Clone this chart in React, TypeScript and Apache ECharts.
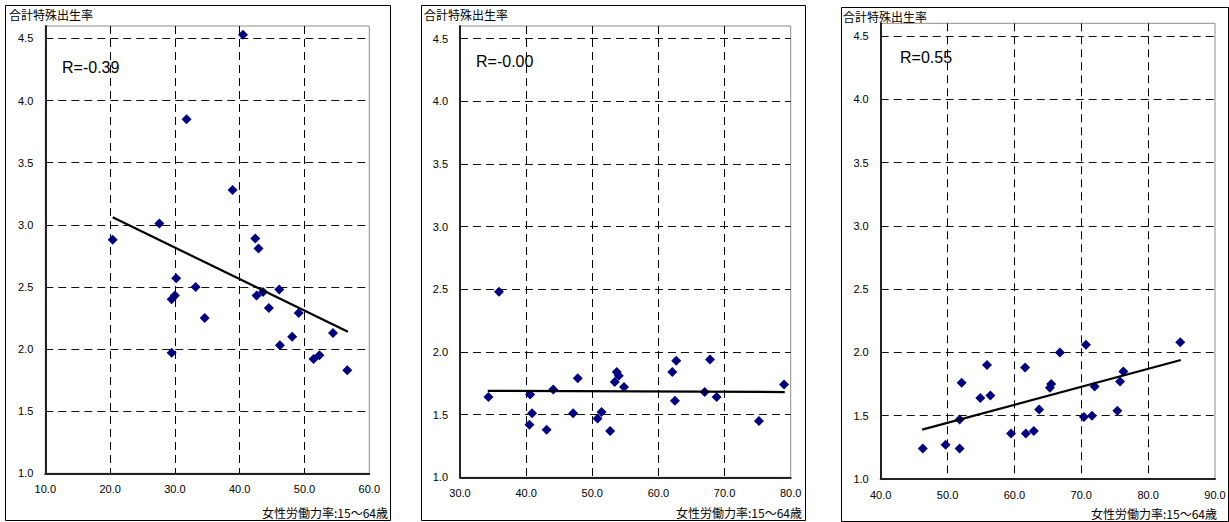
import React, { useEffect, useRef } from "react";
import * as echarts from "echarts";

// Panel 1
const P1_X = [40.5, 31.8, 38.9, 27.6, 20.4, 42.4, 42.9, 30.2, 33.2, 29.5, 30.0, 34.6, 29.5, 42.6, 43.6, 46.1, 44.5, 49.1, 48.1, 46.2, 54.4, 51.4, 52.3, 56.6];
const P1_Y = [4.53, 3.85, 3.28, 3.01, 2.88, 2.89, 2.81, 2.57, 2.50, 2.40, 2.43, 2.25, 1.97, 2.43, 2.46, 2.48, 2.33, 2.29, 2.10, 2.03, 2.13, 1.92, 1.95, 1.83];
const P1_TREND = [[20.4, 3.06], [56.7, 2.14]];
const P1_R = "R=-0.39";
const P1_XRANGE = [10, 60];

// Panel 2
const P2_X = [35.9, 34.3, 40.6, 44.1, 40.9, 40.5, 43.1, 47.8, 47.1, 50.8, 51.4, 52.7, 53.7, 54.0, 53.4, 54.8, 62.1, 62.7, 62.5, 67.0, 67.8, 68.8, 75.2, 79.0];
const P2_Y = [2.48, 1.64, 1.66, 1.70, 1.51, 1.42, 1.38, 1.79, 1.51, 1.47, 1.52, 1.37, 1.84, 1.81, 1.76, 1.72, 1.84, 1.93, 1.61, 1.68, 1.94, 1.64, 1.45, 1.74];
const P2_TREND = [[34.2, 1.69], [79.1, 1.68]];
const P2_R = "R=-0.00";
const P2_XRANGE = [30, 80];

// Panel 3
const P3_X = [46.3, 49.7, 51.8, 51.8, 52.1, 54.9, 55.9, 56.4, 59.5, 61.6, 61.7, 62.9, 63.7, 65.3, 65.5, 66.8, 70.4, 70.7, 71.6, 72.0, 75.4, 75.8, 76.3, 84.8];
const P3_Y = [1.24, 1.27, 1.24, 1.47, 1.76, 1.64, 1.90, 1.66, 1.36, 1.88, 1.36, 1.38, 1.55, 1.72, 1.75, 2.00, 1.49, 2.06, 1.50, 1.73, 1.54, 1.77, 1.85, 2.08];
const P3_TREND = [[46.2, 1.39], [84.9, 1.94]];
const P3_R = "R=0.55";
const P3_XRANGE = [40, 90];

const Y_RANGE = [1.0, 4.6];
const Y_TITLE = "合計特殊出生率";
const X_TITLE = "女性労働力率:15～64歳";

const FONT = "'Liberation Sans', Arial, 'Noto Sans CJK JP', sans-serif";
const CJK = "'Noto Sans CJK JP', 'Liberation Sans', sans-serif";

const panels = [
  { xs: P1_X, ys: P1_Y, trend: P1_TREND, r: P1_R, xr: P1_XRANGE,
    grid: { left: 45.3, top: 26, width: 324, height: 447.3 },
    box: { x: 5.5, y: 5.5, w: 385, h: 515 },
    title: { x: 9, y: 14 }, rText: { x: 62, y: 67 }, xName: { x: 388, y: 512 } },
  { xs: P2_X, ys: P2_Y, trend: P2_TREND, r: P2_R, xr: P2_XRANGE,
    grid: { left: 460, top: 26, width: 330.7, height: 451.3 },
    box: { x: 421.5, y: 5.5, w: 384, h: 515 },
    title: { x: 424, y: 14 }, rText: { x: 476, y: 61 }, xName: { x: 802, y: 512 } },
  { xs: P3_X, ys: P3_Y, trend: P3_TREND, r: P3_R, xr: P3_XRANGE,
    grid: { left: 880.7, top: 23.3, width: 334.3, height: 455.7 },
    box: { x: 841.5, y: 7.5, w: 387, h: 514 },
    title: { x: 843, y: 16 }, rText: { x: 900, y: 57 }, xName: { x: 1217, y: 513 } },
];

export default function App() {
  const ref = useRef<HTMLDivElement>(null);
  useEffect(() => {
    if (!ref.current) return;
    const chart = echarts.init(ref.current, undefined, { renderer: "svg" });
    const grid: any[] = [];
    const xAxis: any[] = [];
    const yAxis: any[] = [];
    const series: any[] = [];
    const graphic: any[] = [];
    panels.forEach((p, i) => {
      grid.push({ ...p.grid, show: true, borderColor: "#8c8c8c", borderWidth: 1, backgroundColor: "#fff" });
      xAxis.push({
        type: "value", gridIndex: i, min: p.xr[0], max: p.xr[1], interval: 10,
        axisLine: { show: true, onZero: false, lineStyle: { color: "#222", width: 2 } },
        axisTick: { show: false },
        axisLabel: { color: "#000", fontSize: 11, fontFamily: FONT, margin: 10, formatter: (v: number) => v.toFixed(1) },
        splitLine: { show: true, showMinLine: false, showMaxLine: false, lineStyle: { color: "#000", type: [8, 5], width: 1 } },
      });
      yAxis.push({
        type: "value", gridIndex: i, min: Y_RANGE[0], max: Y_RANGE[1], interval: 0.5,
        axisLine: { show: true, onZero: false, lineStyle: { color: "#222", width: 2 } },
        axisTick: { show: false },
        axisLabel: { color: "#000", fontSize: 11, fontFamily: FONT, margin: 12, formatter: (v: number) => (v > 4.55 ? "" : v.toFixed(1)) },
        splitLine: { show: true, showMinLine: false, showMaxLine: false, lineStyle: { color: "#111", type: [8, 5], width: 1 } },
      });
      series.push({
        type: "scatter", xAxisIndex: i, yAxisIndex: i, symbol: "diamond", symbolSize: 10,
        itemStyle: { color: "#000080", opacity: 1 },
        data: p.xs.map((x, k) => [x, p.ys[k]]),
        z: 3,
      });
      series.push({
        type: "line", xAxisIndex: i, yAxisIndex: i, symbol: "none",
        lineStyle: { color: "#000", width: 2.2 },
        data: p.trend, z: 4,
      });
      graphic.push({
        type: "rect", shape: { x: p.box.x, y: p.box.y, width: p.box.w, height: p.box.h },
        style: { fill: "none", stroke: "#000", lineWidth: 1 }, z: -1,
      });
      graphic.push({
        type: "text", x: p.title.x, y: p.title.y,
        style: { text: Y_TITLE, fontSize: 12, fontFamily: CJK, fill: "#000", verticalAlign: "middle", align: "left" },
      });
      graphic.push({
        type: "text", x: p.rText.x, y: p.rText.y,
        style: { text: p.r, fontSize: 16, fontFamily: FONT, fill: "#000", verticalAlign: "middle", align: "left" },
      });
      graphic.push({
        type: "text", x: p.xName.x, y: p.xName.y,
        style: { text: X_TITLE, fontSize: 12, fontFamily: CJK, fill: "#000", verticalAlign: "middle", align: "right" },
      });
    });
    chart.setOption({ animation: false, backgroundColor: "#fff", grid, xAxis, yAxis, series, graphic });
    return () => chart.dispose();
  }, []);
  return <div ref={ref} style={{ position: "fixed", left: 0, top: 0, width: 1229, height: 522 }} />;
}
